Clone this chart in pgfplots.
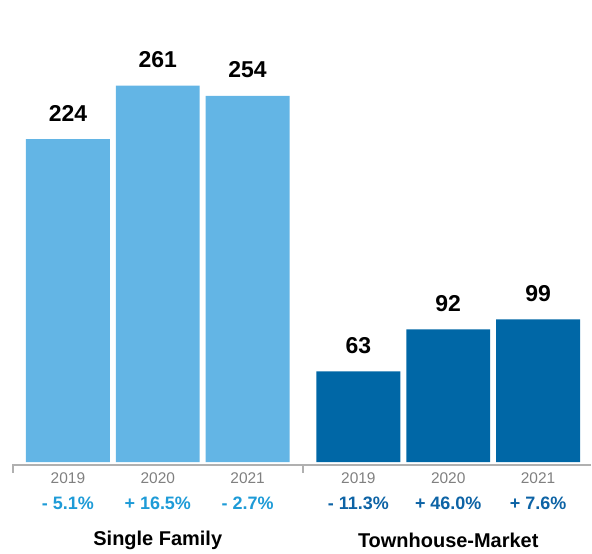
\documentclass[border=0pt]{standalone}
\usepackage{pgfplots}
\pgfplotsset{compat=1.18}
\usepackage{fontspec}
\setmainfont{Liberation Sans}

\definecolor{lightbar}{HTML}{63B5E5}
\definecolor{darkbar}{HTML}{0067A6}
\definecolor{lighttxt}{HTML}{1E9BD7}
\definecolor{darktxt}{HTML}{0D63A5}
\definecolor{axisgray}{HTML}{B0B0B0}

\begin{document}
\begin{tikzpicture}
\begin{axis}[
    scale only axis,
    width=580pt, height=466pt,
    xmin=-0.622, xmax=5.822,
    ymin=-2.08, ymax=320.4,
    clip=false,
    axis x line*=bottom,
    axis y line=none,
    axis line style={axisgray, line width=2pt},
    xtick={0,1,2,3.233,4.233,5.233},
    xticklabels={2019,2020,2021,2019,2020,2021},
    xtick style={draw=none},
    xticklabel style={font=\fontsize{15.5}{18}\selectfont, text=black!50},
    ytick=\empty,
    /pgf/number format/assume math mode=true,
    ybar, bar width=84pt, bar shift=0pt,
    nodes near coords,
    every node near coord/.append style={font=\fontsize{23}{27}\selectfont\bfseries, text=black, anchor=base, inner sep=0pt, yshift=18pt},
]
\addplot[fill=lightbar, draw=none] coordinates {(0,224) (1,261) (2,254)};
\addplot[fill=darkbar, draw=none] coordinates {(3.233,63) (4.233,92) (5.233,99)};

% tick marks on the base line
\draw[axisgray, line width=2pt] ([xshift=1pt]axis cs:-0.622,-2.08) -- ([xshift=1pt,yshift=-8pt]axis cs:-0.622,-2.08);
\draw[axisgray, line width=2pt] (axis cs:2.611,-2.08) -- ([yshift=-8pt]axis cs:2.611,-2.08);

% change labels
\begin{scope}[every node/.style={font=\fontsize{18}{21}\selectfont\bfseries, anchor=center}]
\node[text=lighttxt] at (axis cs:0,-28.5) {- 5.1\%};
\node[text=lighttxt] at (axis cs:1,-28.5) {+ 16.5\%};
\node[text=lighttxt] at (axis cs:2,-28.5) {- 2.7\%};
\node[text=darktxt] at (axis cs:3.233,-28.5) {- 11.3\%};
\node[text=darktxt] at (axis cs:4.233,-28.5) {+ 46.0\%};
\node[text=darktxt] at (axis cs:5.233,-28.5) {+ 7.6\%};
\end{scope}

% group labels
\node[font=\fontsize{20}{24}\selectfont\bfseries, anchor=center] at (axis cs:1,-54) {Single Family};
\node[font=\fontsize{20}{24}\selectfont\bfseries, anchor=center] at (axis cs:4.233,-54) {Townhouse-Market};

\path (axis cs:-0.756,-63.0) (axis cs:5.822,320.4);
\end{axis}
\end{tikzpicture}
\end{document}
